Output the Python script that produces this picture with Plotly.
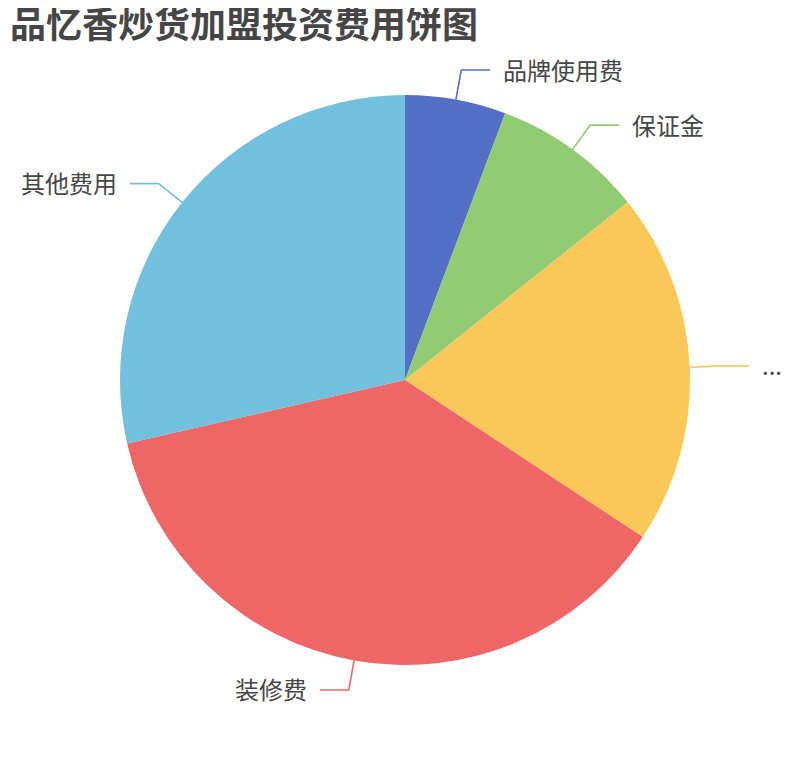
import numpy as np
import plotly.graph_objects as go

# pie data
labels = ['品牌使用费', '保证金', '...', '装修费', '其他费用']
values = [2, 3, 7, 13, 10]
colors = ['#5470c6', '#91cc75', '#fac858', '#ee6666', '#73c0de']
title = '品忆香炒货加盟投资费用饼图'

W, H = 810, 760
off = 8  # page body margin around the plot div
cx, cy, r = 405 - off, 380 - off, 285

fig = go.Figure()
fig.add_trace(go.Pie(
    labels=labels,
    values=values,
    sort=False,
    direction='clockwise',
    rotation=0,
    textinfo='none',
    marker=dict(colors=colors, line=dict(width=0)),
    domain=dict(x=[(cx - r) / W, (cx + r) / W], y=[(H - cy - r) / H, (H - cy + r) / H]),
    showlegend=False,
))

# leader lines + labels, placed from slice mid angles
frac = np.array(values) / sum(values)
mids = (np.cumsum(frac) - frac / 2) * 2 * np.pi
len1, len2 = 30, 29
for lab, col, a in zip(labels, colors, mids):
    x0, y0 = cx + r * np.sin(a), cy - r * np.cos(a)
    x1, y1 = cx + (r + len1) * np.sin(a), cy - (r + len1) * np.cos(a)
    side = 1 if np.sin(a) >= 0 else -1
    x2 = x1 + side * len2
    path = 'M {} {} L {} {} L {} {}'.format(x0 / W, 1 - y0 / H, x1 / W, 1 - y1 / H, x2 / W, 1 - y1 / H)
    fig.add_shape(type='path', path=path, xref='paper', yref='paper',
                  line=dict(color=col, width=1.6))
    fig.add_annotation(x=(x2 + side * 11) / W, y=1 - (y1 - 1) / H, xref='paper', yref='paper',
                       text=lab, showarrow=False,
                       xanchor='left' if side > 0 else 'right', yanchor='middle',
                       font=dict(size=24, color='#464646'))

fig.update_layout(
    width=W, height=H,
    margin=dict(l=0, r=0, t=0, b=0),
    paper_bgcolor='white',
    font=dict(family='Noto Sans CJK SC, sans-serif'),
    title=dict(text='<b>' + title + '</b>', x=(10 - off) / W, xanchor='left',
               y=1 - (25 - off) / H, yanchor='middle',
               font=dict(size=36, color='#464646')),
)

fig.write_html('out.html')
